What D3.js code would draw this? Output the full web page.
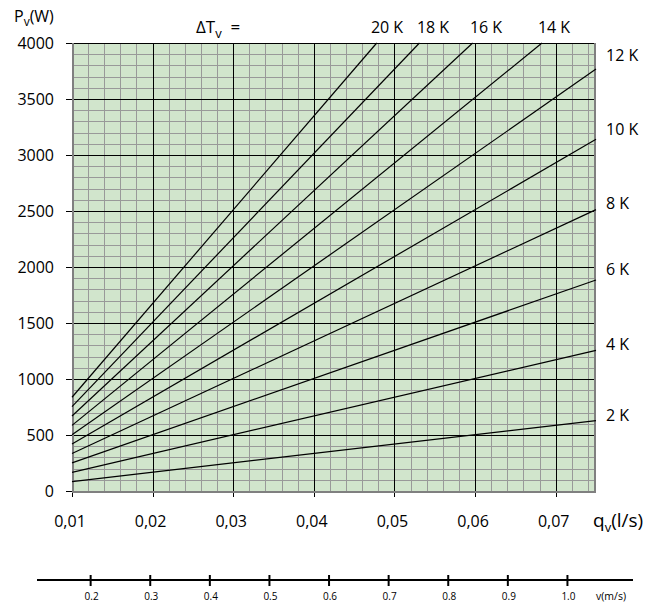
<!DOCTYPE html>
<html>
<head>
<meta charset="utf-8">
<script src="https://cdnjs.cloudflare.com/ajax/libs/d3/7.8.5/d3.min.js"></script>
<style>
    body { margin: 0; background: #fff; }
    svg { font-family: "Open Sans", sans-serif; }
</style>
</head>
<body>
<svg width="648" height="603"></svg>
<script>
// temperature differences (K) and read-off line ends: [q start, P start, q end, P end]
var deltaT = [2, 4, 6, 8, 10, 12, 14, 16, 18, 20];
var qStart = [0.01, 0.01, 0.01, 0.01, 0.01, 0.01, 0.01, 0.01, 0.01, 0.01];
var pStart = [84, 167, 251, 335, 419, 502, 586, 670, 753, 837];
var qEnd = [0.075, 0.075, 0.075, 0.075, 0.075, 0.075, 0.0683, 0.0597, 0.0531, 0.0478];
var pEnd = [628, 1256, 1884, 2512, 3140, 3767, 4000, 4000, 4000, 4000];

var xTicks = [0.01, 0.02, 0.03, 0.04, 0.05, 0.06, 0.07];
var yTicks = [0, 500, 1000, 1500, 2000, 2500, 3000, 3500, 4000];
var vTicks = [0.2, 0.3, 0.4, 0.5, 0.6, 0.7, 0.8, 0.9, 1.0];

var topLabels = ['20 K', '18 K', '16 K', '14 K'];
var topLabelX = [387, 433, 486, 554];
var rightLabels = ['12 K', '10 K', '8 K', '6 K', '4 K', '2 K'];
var rightLabelP = [3890, 3230, 2570, 1980, 1310, 680];

var svg = d3.select('svg');
var margin = {top: 43, left: 72};
var width = 524;
var height = 448;
var g = svg.append('g').attr('transform', 'translate(' + margin.left + ',' + margin.top + ')');

var x = d3.scaleLinear().domain([0.01, 0.075]).range([0, width]);
var y = d3.scaleLinear().domain([0, 4000]).range([height, 0]);

// background
g.append('rect')
    .attr('width', width)
    .attr('height', height)
    .attr('fill', '#d1e5cc');

// minor grid
var minorX = d3.range(6, 38).map(function (i) { return i * 0.002; })
    .filter(function (d) { return d > 0.0101 && d < 0.0749 && Math.abs(d * 100 - Math.round(d * 100)) > 1e-6; });
var minorY = d3.range(1, 40).filter(function (i) { return i % 5 !== 0; }).map(function (i) { return i * 100; });

g.selectAll('.minorx')
    .data(minorX)
    .enter()
    .append('line')
    .attr('x1', function (d) { return Math.round(x(d)) + 0.5; })
    .attr('x2', function (d) { return Math.round(x(d)) + 0.5; })
    .attr('y1', 0)
    .attr('y2', height)
    .attr('stroke', '#999')
    .attr('stroke-width', 1);

g.selectAll('.minory')
    .data(minorY)
    .enter()
    .append('line')
    .attr('x1', 0)
    .attr('x2', width)
    .attr('y1', function (d) { return Math.round(y(d)) + 0.5; })
    .attr('y2', function (d) { return Math.round(y(d)) + 0.5; })
    .attr('stroke', '#999')
    .attr('stroke-width', 1);

// major grid with ticks sticking out
g.selectAll('.majorx')
    .data(xTicks)
    .enter()
    .append('line')
    .attr('x1', function (d) { return Math.round(x(d)) + 0.5; })
    .attr('x2', function (d) { return Math.round(x(d)) + 0.5; })
    .attr('y1', function (d) { return d === 0.01 ? height : 0; })
    .attr('y2', height + 6)
    .attr('stroke', '#000')
    .attr('stroke-width', 1);

g.selectAll('.majory')
    .data(yTicks)
    .enter()
    .append('line')
    .attr('x1', -6)
    .attr('x2', function (d) { return d === 0 ? 0 : width; })
    .attr('y1', function (d) { return Math.round(y(d)) + 0.5; })
    .attr('y2', function (d) { return Math.round(y(d)) + 0.5; })
    .attr('stroke', '#000')
    .attr('stroke-width', 1);

// gray frame on left, bottom, right
g.append('path')
    .attr('d', 'M1,0V' + (height + 1) + 'H' + (width - 1) + 'V0')
    .attr('fill', 'none')
    .attr('stroke', '#808080')
    .attr('stroke-width', 2);

// tick labels
g.selectAll('.ylab')
    .data(yTicks)
    .enter()
    .append('text')
    .attr('x', -18)
    .attr('y', function (d) { return y(d) + 6; })
    .attr('text-anchor', 'end')
    .attr('font-size', 16)
    .text(function (d) { return d; });

g.selectAll('.xlab')
    .data(xTicks)
    .enter()
    .append('text')
    .attr('x', function (d) { return x(d) - 2; })
    .attr('y', height + 36)
    .attr('text-anchor', 'middle')
    .attr('font-size', 16)
    .text(function (d) { return d3.format('.2f')(d).replace('.', ','); });

// power lines
var lines = deltaT.map(function (t, i) {
    return [[qStart[i], pStart[i]], [qEnd[i], pEnd[i]]];
});
var line = d3.line()
    .x(function (d) { return x(d[0]); })
    .y(function (d) { return y(d[1]); });

g.selectAll('.pline')
    .data(lines)
    .enter()
    .append('path')
    .attr('d', line)
    .attr('fill', 'none')
    .attr('stroke', '#000')
    .attr('stroke-width', 1.2);

// line labels
svg.selectAll('.toplab')
    .data(topLabels)
    .enter()
    .append('text')
    .attr('x', function (d, i) { return topLabelX[i]; })
    .attr('y', 33)
    .attr('text-anchor', 'middle')
    .attr('font-size', 16)
    .text(function (d) { return d; });

g.selectAll('.rightlab')
    .data(rightLabels)
    .enter()
    .append('text')
    .attr('x', width + 10)
    .attr('y', function (d, i) { return y(rightLabelP[i]) + 6; })
    .attr('font-size', 16)
    .text(function (d) { return d; });

// titles
var pt = svg.append('text').attr('x', 14).attr('y', 22).attr('font-size', 16);
pt.append('tspan').text('P');
pt.append('tspan').attr('font-size', 12).attr('dy', 4).text('v');
pt.append('tspan').attr('dy', -4).text('(W)');

var dt = svg.append('text').attr('x', 196).attr('y', 33).attr('font-size', 17);
dt.append('tspan').text('\u0394T');
dt.append('tspan').attr('font-size', 13).attr('dy', 5).text('v');
dt.append('tspan').attr('dy', -5).text('  =').attr('xml:space', 'preserve');

var qt = svg.append('text').attr('x', 593).attr('y', 527).attr('font-size', 19);
qt.append('tspan').text('q');
qt.append('tspan').attr('font-size', 13).attr('dy', 5).text('v');
qt.append('tspan').attr('dy', -5).text('(l/s)');

// velocity axis
var v = d3.scaleLinear().domain([0.11, 1.11]).range([37, 633]);
var vg = svg.append('g');
vg.append('line')
    .attr('x1', v(0.11))
    .attr('x2', v(1.11))
    .attr('y1', 580)
    .attr('y2', 580)
    .attr('stroke', '#000')
    .attr('stroke-width', 2);

vg.selectAll('.vtick')
    .data(vTicks)
    .enter()
    .append('line')
    .attr('x1', function (d) { return v(d); })
    .attr('x2', function (d) { return v(d); })
    .attr('y1', 575)
    .attr('y2', 586)
    .attr('stroke', '#000')
    .attr('stroke-width', 2);

vg.selectAll('.vlab')
    .data(vTicks)
    .enter()
    .append('text')
    .attr('x', function (d) { return v(d) + 1; })
    .attr('y', 600)
    .attr('text-anchor', 'middle')
    .attr('font-size', 10)
    .text(function (d) { return d3.format('.1f')(d); });

vg.append('text')
    .attr('x', 596)
    .attr('y', 600)
    .attr('font-size', 10.5)
    .text('v(m/s)');
</script>
</body>
</html>
